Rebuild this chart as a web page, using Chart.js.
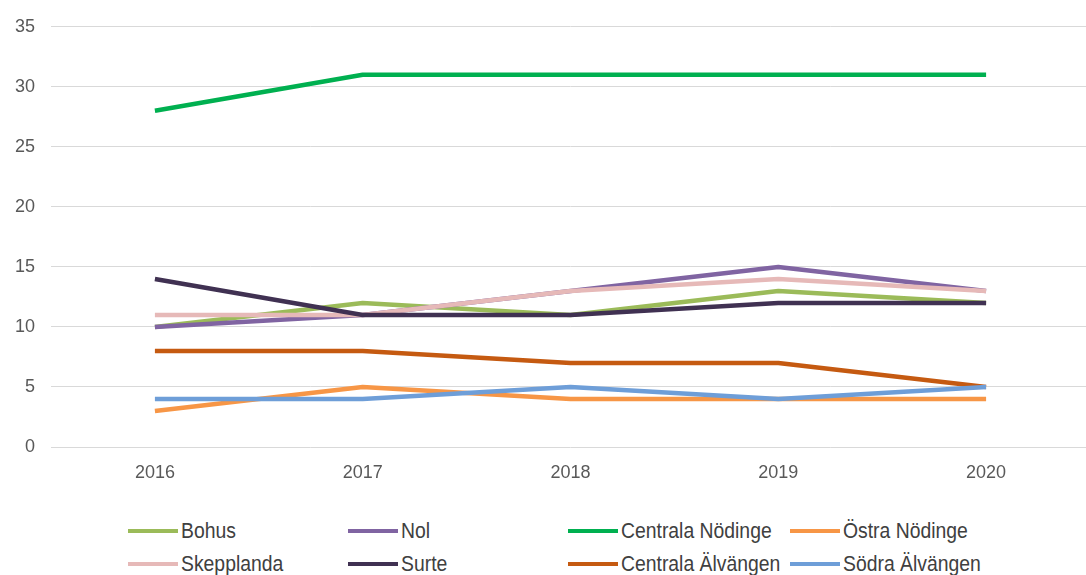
<!DOCTYPE html>
<html>
<head>
<meta charset="utf-8">
<script src="https://cdn.jsdelivr.net/npm/chart.js@4"></script>
<style>
  body { margin: 0; background: #fff; }
  #wrap { position: relative; width: 1086px; height: 575px; overflow: hidden; }
  #box { position: absolute; left: 0; top: 0; width: 1090px; height: 500px; }
  .item { position: absolute; height: 24px; display: flex; align-items: center;
          font-family: "Liberation Sans", Arial, sans-serif;
          font-size: 22px; color: #404040; white-space: nowrap; }
  .item span.sw { display: inline-block; width: 50px; height: 4px; margin-right: 3px; }
  .item span.tx { display: inline-block; transform: scaleX(0.88); transform-origin: left center; }
</style>
</head>
<body>
<div id="wrap">
  <div id="box"><canvas id="myChart"></canvas></div>
  <div id="legend"></div>
</div>
<script>
const years = ['2016', '2017', '2018', '2019', '2020'];
const names = ['Bohus', 'Nol', 'Centrala Nödinge', 'Östra Nödinge',
               'Skepplanda', 'Surte', 'Centrala Älvängen', 'Södra Älvängen'];

const bohus = [10, 12, 11, 13, 12];
const nol = [10, 11, 13, 15, 13];
const centralaNodinge = [28, 31, 31, 31, 31];
const ostraNodinge = [3, 5, 4, 4, 4];
const skepplanda = [11, 11, 13, 14, 13];
const surte = [14, 11, 11, 12, 12];
const centralaAlvangen = [8, 8, 7, 7, 5];
const sodraAlvangen = [4, 4, 5, 4, 5];

const series = [bohus, nol, centralaNodinge, ostraNodinge,
                skepplanda, surte, centralaAlvangen, sodraAlvangen];
const colors = ['#9BBB59', '#8064A2', '#00B050', '#F79646',
                '#E6B9B8', '#403152', '#C55A11', '#6E9ED8'];

// html legend, 4 columns like the excel one
const colX = [128, 348, 568, 790];
const rowY = [519, 552];
const legend = document.getElementById('legend');
names.forEach((n, i) => {
    const d = document.createElement('div');
    d.className = 'item';
    d.style.left = colX[i % 4] + 'px';
    d.style.top = rowY[Math.floor(i / 4)] + 'px';
    d.innerHTML = '<span class="sw" style="background:' + colors[i] + '"></span><span class="tx">' + n + '</span>';
    legend.appendChild(d);
});

const ctx = document.getElementById('myChart');

new Chart(ctx, {
    type: 'line',
    data: {
        labels: years,
        datasets: series.map((s, i) => ({
            label: names[i],
            data: s,
            borderColor: colors[i],
            backgroundColor: colors[i],
            borderWidth: 4.5,
            pointRadius: 0,
            tension: 0,
            borderJoinStyle: 'round',
            order: series.length - i
        }))
    },
    options: {
        responsive: true,
        maintainAspectRatio: false,
        animation: false,
        layout: {
            padding: { top: 12, right: 0, left: 0, bottom: 0 }
        },
        plugins: {
            legend: { display: false },
            tooltip: { enabled: false }
        },
        scales: {
            x: {
                offset: true,
                grid: { display: false },
                border: { display: false },
                ticks: {
                    color: '#595959',
                    font: { family: 'Liberation Sans', size: 18 },
                    padding: 7
                },
                afterFit: (scale) => { scale.height = 53; }
            },
            y: {
                min: 0,
                max: 35,
                grid: { color: '#D9D9D9', lineWidth: 1, drawTicks: false },
                border: { display: false },
                ticks: {
                    stepSize: 5,
                    color: '#595959',
                    font: { family: 'Liberation Sans', size: 18 },
                    padding: 16
                },
                afterFit: (scale) => { scale.width = 51; }
            }
        }
    }
});
</script>
</body>
</html>
